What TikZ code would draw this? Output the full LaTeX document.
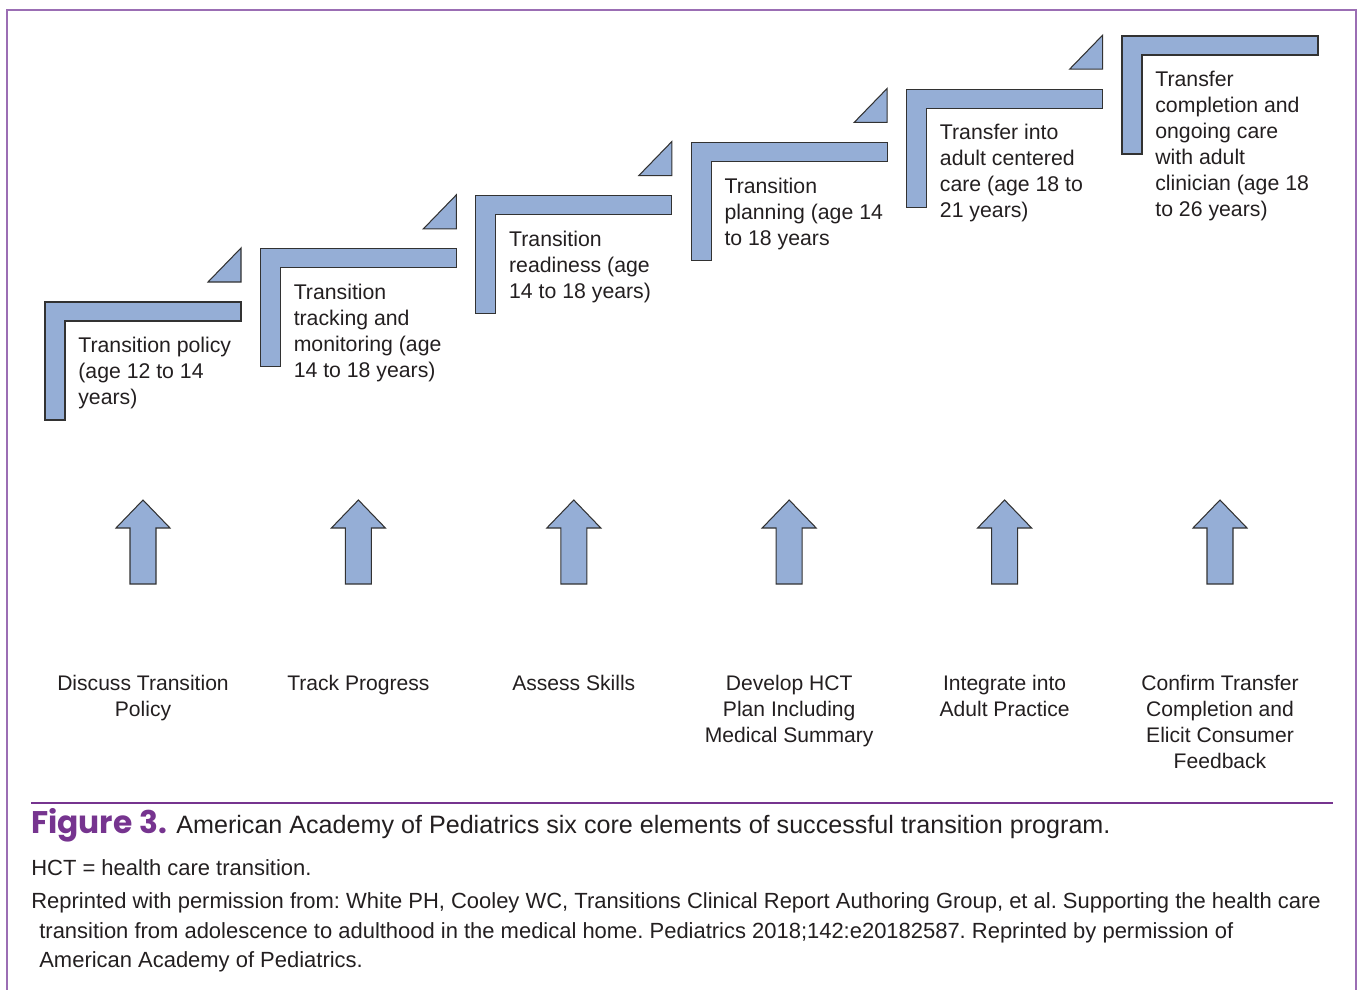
\documentclass[tikz,border=0pt]{standalone}
\usepackage{fontspec}
\setmainfont{Liberation Sans}
\newfontfamily\figfont{Poppins}[UprightFont=* Bold]
\usetikzlibrary{positioning, calc}
\frenchspacing
\definecolor{stairblue}{RGB}{149,174,214}
\definecolor{edgegray}{RGB}{50,50,50}
\definecolor{inkgray}{RGB}{35,31,32}
\definecolor{figpurple}{RGB}{118,52,143}
\definecolor{framepurple}{RGB}{155,110,180}
\tikzset{
  bar/.style={draw=edgegray, fill=stairblue, line width=0.6pt, line join=miter},
  stair/.pic={\draw[bar] (0,0) -- (196,0) -- (196,19) -- (20,19) -- (20,118) -- (0,118) -- cycle;},
  wedge/.pic={\draw[bar] (163,-20) -- (196,-20) -- (196,-54) -- cycle;},
  uparrow/.pic={\draw[bar] (0,0) -- (27,28) -- (13,28) -- (13,84) -- (-13,84) -- (-13,28) -- (-27,28) -- cycle;},
  stepnote/.style={anchor=north west, align=left, inner sep=0pt, text=inkgray, font=\fontsize{12.1}{14.8}\selectfont},
  element/.style={anchor=north, align=center, inner sep=0pt, text=inkgray, font=\fontsize{12}{14.8}\selectfont},
  captext/.style={anchor=base west, inner sep=0pt, text=inkgray},
  notetext/.style={captext, font=\fontsize{12.5}{14}\selectfont},
  frame/.style={draw=framepurple, line width=1.2pt},
  rule/.style={draw=figpurple, line width=1.1pt}
}
\begin{document}
\begin{tikzpicture}[x=0.02cm, y=-0.02cm]
\useasboundingbox (0,0) rectangle (1357,990);
\draw[frame] (7,995) -- (7,10) -- (1356,10) -- (1356,995);

% stair steps
\coordinate (s1) at (45,302);
\coordinate (s2) at (260.4,248.8);
\coordinate (s3) at (475.8,195.6);
\coordinate (s4) at (691.2,142.4);
\coordinate (s5) at (906.6,89.2);
\coordinate (s6) at (1122,36);
\pic at (s1) {stair}; \pic at (s1) {wedge};
\pic at (s2) {stair}; \pic at (s2) {wedge};
\pic at (s3) {stair}; \pic at (s3) {wedge};
\pic at (s4) {stair}; \pic at (s4) {wedge};
\pic at (s5) {stair}; \pic at (s5) {wedge};
\pic at (s6) {stair};

\node[stepnote] (n1) at ($(s1)+(33,35)$) {Transition policy\\(age 12 to 14\\years)};
\node[stepnote] (n2) at ($(s2)+(33,35)$) {Transition\\tracking and\\monitoring (age\\14 to 18 years)};
\node[stepnote] (n3) at ($(s3)+(33,35)$) {Transition\\readiness (age\\14 to 18 years)};
\node[stepnote] (n4) at ($(s4)+(33,35)$) {Transition\\planning (age 14\\to 18 years};
\node[stepnote] (n5) at ($(s5)+(33,35)$) {Transfer into\\adult centered\\care (age 18 to\\21 years)};
\node[stepnote] (n6) at ($(s6)+(33,35)$) {Transfer\\completion and\\ongoing care\\with adult\\clinician (age 18\\to 26 years)};

% block arrows and core elements
\coordinate (a1) at (143,500);
\coordinate (a2) at (358.4,500);
\coordinate (a3) at (573.8,500);
\coordinate (a4) at (789.2,500);
\coordinate (a5) at (1004.6,500);
\coordinate (a6) at (1220,500);
\pic at (a1) {uparrow}; \pic at (a2) {uparrow}; \pic at (a3) {uparrow};
\pic at (a4) {uparrow}; \pic at (a5) {uparrow}; \pic at (a6) {uparrow};

\node[element] (e1) at ($(a1)+(0,175)$) {Discuss Transition\\Policy};
\node[element] (e2) at ($(a2)+(0,175)$) {Track Progress};
\node[element] (e3) at ($(a3)+(0,175)$) {Assess Skills};
\node[element] (e4) at ($(a4)+(0,175)$) {Develop HCT\\Plan Including\\Medical Summary};
\node[element] (e5) at ($(a5)+(0,175)$) {Integrate into\\Adult Practice};
\node[element] (e6) at ($(a6)+(0,175)$) {Confirm Transfer\\Completion and\\Elicit Consumer\\Feedback};

% caption
\draw[rule] (31,803) -- (1333,803);
\node[captext, text=figpurple, font=\figfont\fontsize{17.8}{20}\selectfont] (fig) at (31,833) {Figure 3.};
\node[captext, font=\fontsize{14.3}{17}\selectfont] (title) at (176,833) {American Academy of Pediatrics six core elements of successful transition program.};
\node[notetext] (abbr) at (31,875) {HCT = health care transition.};
\node[notetext] (src1) at (31,908) {Reprinted with permission from: White PH, Cooley WC, Transitions Clinical Report Authoring Group, et al. Supporting the health care};
\node[notetext] (src2) at (39,938) {transition from adolescence to adulthood in the medical home. Pediatrics 2018;142:e20182587. Reprinted by permission of};
\node[notetext] (src3) at (39,967) {American Academy of Pediatrics.};
\end{tikzpicture}
\end{document}
